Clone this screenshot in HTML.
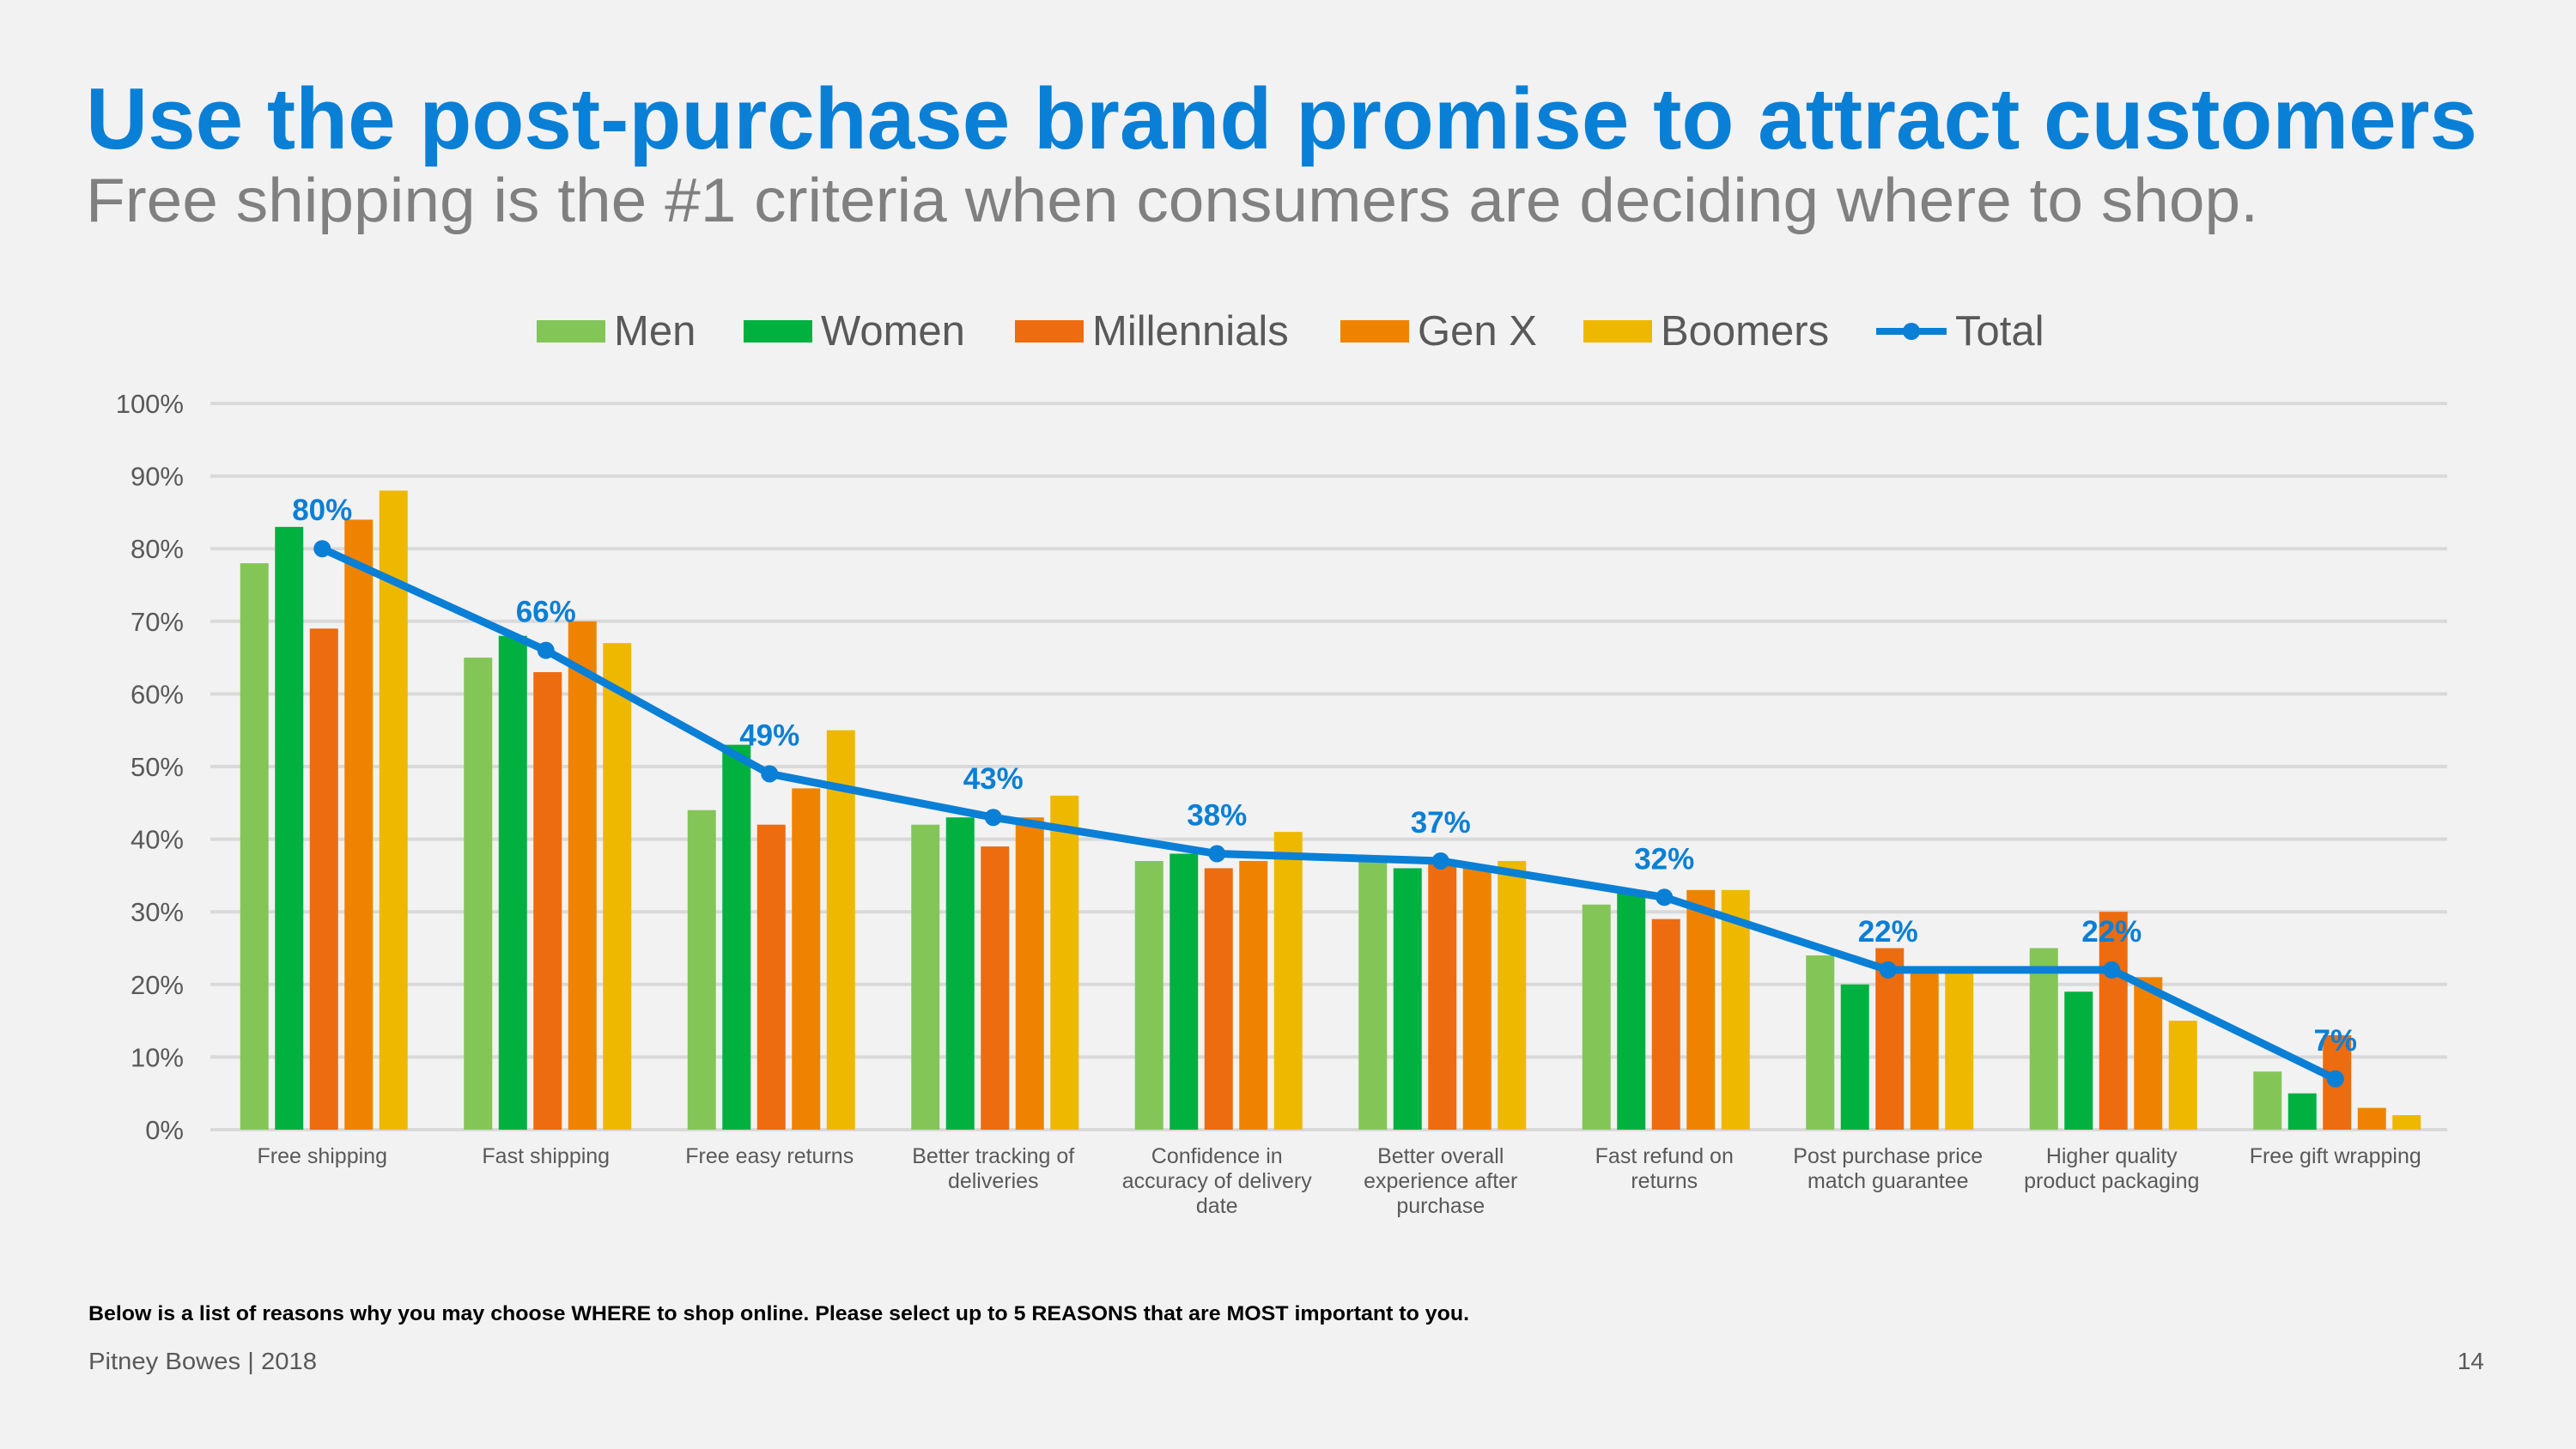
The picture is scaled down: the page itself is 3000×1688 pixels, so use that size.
<!DOCTYPE html>
<html><head><meta charset="utf-8"><style>
html,body{margin:0;padding:0;background:#f2f2f2;}
svg{display:block;font-family:"Liberation Sans",Arial,sans-serif;}
</style></head><body>
<svg id="chart" width="3000" height="1688" viewBox="0 0 3000 1688" xmlns="http://www.w3.org/2000/svg">
<rect width="3000" height="1688" fill="#f2f2f2"/>
<text x="100" y="173" font-size="101" font-weight="bold" fill="#0a7fd6" textLength="2785" lengthAdjust="spacingAndGlyphs">Use the post-purchase brand promise to attract customers</text>
<text x="100" y="258" font-size="72" fill="#808080" textLength="2530" lengthAdjust="spacingAndGlyphs">Free shipping is the #1 criteria when consumers are deciding where to shop.</text>
<g id="legend"></g>
<g id="grid"></g>
<g id="yaxis"></g>
<g id="bars"></g>
<g id="xaxis"></g>
<g id="line"></g>
<text x="103" y="1538" font-size="24" font-weight="bold" fill="#000" textLength="1608" lengthAdjust="spacingAndGlyphs">Below is a list of reasons why you may choose WHERE to shop online. Please select up to 5 REASONS that are MOST important to you.</text>
<text x="103" y="1595" font-size="28" fill="#595959" textLength="266" lengthAdjust="spacingAndGlyphs">Pitney Bowes | 2018</text>
<text x="2893" y="1595" font-size="28" fill="#595959" text-anchor="end">14</text>
</svg>
<script>
const categories = [["Free shipping"],["Fast shipping"],["Free easy returns"],["Better tracking of","deliveries"],["Confidence in","accuracy of delivery","date"],["Better overall","experience after","purchase"],["Fast refund on","returns"],["Post purchase price","match guarantee"],["Higher quality","product packaging"],["Free gift wrapping"]];
const men = [78,65,44,42,37,37,31,24,25,8];
const women = [83,68,53,43,38,36,33,20,19,5];
const millennials = [69,63,42,39,36,37,29,25,30,13];
const genX = [84,70,47,43,37,36,33,22,21,3];
const boomers = [88,67,55,46,41,37,33,22,15,2];
const total = [80,66,49,43,38,37,32,22,22,7];
const yTicks = [0,10,20,30,40,50,60,70,80,90,100];
const seriesNames = ["Men","Women","Millennials","Gen X","Boomers"];
const seriesColors = ["#84c558","#00b140","#ec6c0f","#ef8300","#efb800"];
const seriesData = [men,women,millennials,genX,boomers];

const NS="http://www.w3.org/2000/svg";
const X0=245, X1=2850, Y0=1316, Y100=470;
const catW=(X1-X0)/categories.length;
function y(v){return Y0-(v/100)*(Y0-Y100);}
function xc(i){return X0+catW*(i+0.5);}
function mk(tag,attrs,parent){const e=document.createElementNS(NS,tag);for(const k in attrs)e.setAttribute(k,attrs[k]);parent.appendChild(e);return e;}

const grid=document.getElementById('grid'), yaxis=document.getElementById('yaxis');
yTicks.forEach(t=>{
  const l=mk('line',{x1:X0,x2:X1,y1:y(t),y2:y(t),stroke:'#d9d9d9','stroke-width':4},grid);
  
  
  const tx=mk('text',{x:214,y:y(t)+11,'font-size':31,fill:'#595959','text-anchor':'end'},yaxis);
  tx.textContent=t+'%';
  
  
});

const bars=document.getElementById('bars');
const step=40.5, bw=33;
seriesData.forEach((arr,s)=>{
  arr.forEach((v,i)=>{
    const bx=xc(i)-2*step-bw/2+s*step+2;
    const r=mk('rect',{x:bx,y:y(v),width:bw,height:Y0-y(v),fill:seriesColors[s]},bars);
    
    
  });
});

const xaxis=document.getElementById('xaxis');
categories.forEach((lines,i)=>{
  lines.forEach((ln,j)=>{
    const t=mk('text',{x:xc(i),y:1355+j*29,'font-size':25,fill:'#595959','text-anchor':'middle'},xaxis);
    t.textContent=ln;
    
    
  });
});

const lg=document.getElementById('line');
const pts=total.map((v,i)=>xc(i)+','+y(v)).join(' ');
const pl=mk('polyline',{points:pts,fill:'none',stroke:'#0a7fd6','stroke-width':9,'stroke-linejoin':'round'},lg);


total.forEach((v,i)=>{
  const c=mk('circle',{cx:xc(i),cy:y(v),r:10,fill:'#0a7fd6'},lg);
  
  
  const t=mk('text',{x:xc(i),y:y(v)-33,'font-size':35,'font-weight':'bold',fill:'#0a7fd6','text-anchor':'middle'},lg);
  t.textContent=v+'%';
  
  
});

const legend=document.getElementById('legend');
const legX=[625,866,1182,1561,1844];
seriesNames.forEach((n,s)=>{
  const r=mk('rect',{x:legX[s],y:373,width:80,height:26,fill:seriesColors[s]},legend);
  
  
  const t=mk('text',{x:legX[s]+90,y:402,'font-size':49,fill:'#595959'},legend);
  t.textContent=n;
  
  
});
const ll=mk('line',{x1:2185,x2:2267,y1:386,y2:386,stroke:'#0a7fd6','stroke-width':8},legend);


const lc=mk('circle',{cx:2226,cy:386,r:10,fill:'#0a7fd6'},legend);


const lt=mk('text',{x:2277,y:402,'font-size':49,fill:'#595959'},legend);
lt.textContent='Total';


</script>
</body></html>
